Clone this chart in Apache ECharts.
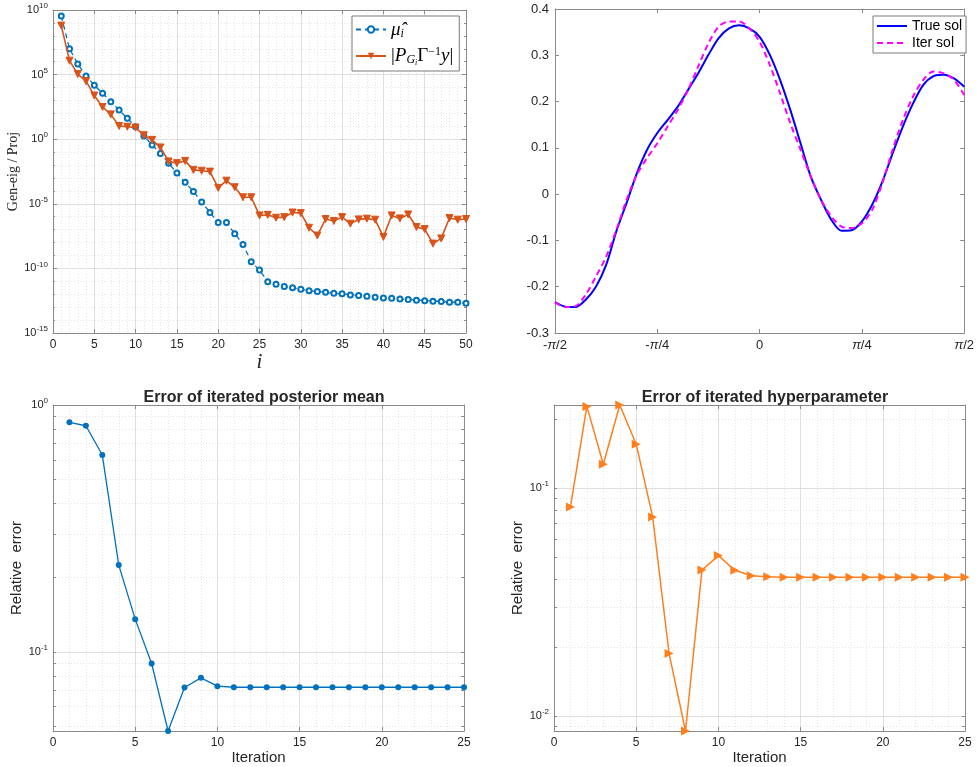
<!DOCTYPE html>
<html><head><meta charset="utf-8">
<script src="https://cdn.jsdelivr.net/npm/echarts@6/dist/echarts.min.js"></script>
<style>html,body{margin:0;padding:0;background:#fff}#c{width:977px;height:767px}</style>
</head><body><div id="c"></div>
<script>
// ================= DATA =================
// Top-left: generalized eigenvalues and projections vs i
const iterTop = [1,2,3,4,5,6,7,8,9,10,11,12,13,14,15,16,17,18,19,20,21,22,23,24,25,
  26,27,28,29,30,31,32,33,34,35,36,37,38,39,40,41,42,43,44,45,46,47,48,49,50];
const muHat = [3.5e9,1.0e7,6.6e5,7.9e4,1.5e4,3.6e3,7.9e2,1.8e2,42,9.3,
  1.8,0.36,0.079,0.014,2.4e-3,4.7e-4,8.9e-5,1.4e-5,2.1e-6,3.5e-7,
  3.5e-7,4.9e-8,7.1e-9,3.2e-10,7.4e-11,9.3e-12,5.9e-12,3.9e-12,3.2e-12,2.4e-12,
  1.9e-12,1.6e-12,1.4e-12,1.2e-12,1.07e-12,8.9e-13,7.9e-13,7.1e-13,5.9e-13,5.2e-13,
  4.9e-13,4.2e-13,3.9e-13,3.5e-13,3.2e-13,2.9e-13,2.75e-13,2.4e-13,2.4e-13,2.0e-13];
const projNorm = [6.2e8,1.2e6,1.1e5,3.1e4,2.4e3,3.1e2,83,10.7,9.3,7.9,
  2.0,0.89,0.23,0.019,0.014,0.021,4.2e-3,3.6e-3,3.1e-3,1.7e-4,
  6.2e-4,1.9e-4,3.2e-5,3.2e-5,1.26e-6,1.4e-6,8.3e-7,9.3e-7,2.1e-6,1.9e-6,
  1.4e-7,3.5e-8,6.6e-7,4.7e-7,9.3e-7,2.9e-7,6.2e-7,7.1e-7,5.9e-7,2.75e-8,
  1.26e-6,7.4e-7,1.5e-6,1.6e-7,1.1e-7,8.3e-9,2.1e-8,7.9e-7,5.9e-7,6.6e-7];
const topLeftYTicksExp = [-15,-10,-5,0,5,10];

// Top-right: solutions; x in units of pi/4
const xQuarterPi = [-2.0,-1.9,-1.8,-1.7,-1.6,-1.5,-1.4,-1.3,-1.2,-1.1,-1.0,-0.9,-0.8,-0.7,-0.6,-0.5,-0.4,-0.3,-0.2,-0.1,
  0.0,0.1,0.2,0.3,0.4,0.5,0.6,0.7,0.8,0.9,1.0,1.1,1.2,1.3,1.4,1.5,1.6,1.7,1.8,1.9,2.0];
const trueSol = [-0.233,-0.243,-0.244,-0.228,-0.200,-0.153,-0.080,-0.019,0.045,0.096,0.132,0.160,0.189,0.225,0.261,0.301,0.337,0.358,0.365,0.358,
  0.340,0.301,0.247,0.182,0.110,0.038,-0.012,-0.055,-0.079,-0.078,-0.059,-0.023,0.027,0.088,0.146,0.196,0.236,0.255,0.258,0.250,0.232];
const iterSol = [-0.234,-0.244,-0.242,-0.217,-0.178,-0.135,-0.077,-0.012,0.042,0.078,0.110,0.146,0.182,0.225,0.276,0.326,0.362,0.373,0.373,0.358,
  0.329,0.279,0.218,0.153,0.096,0.038,-0.012,-0.048,-0.070,-0.073,-0.063,-0.034,0.024,0.096,0.160,0.211,0.247,0.265,0.261,0.247,0.214];
const xPiTickLabels = ['-π/2','-π/4','0','π/4','π/2'];

// Bottom: relative errors vs iteration
const iterBottom = [1,2,3,4,5,6,7,8,9,10,11,12,13,14,15,16,17,18,19,20,21,22,23,24,25];
const errMean = [0.851,0.824,0.627,0.2246,0.1357,0.0897,0.0478,0.0717,0.0785,0.0726,
  0.0719,0.0719,0.0719,0.0719,0.0719,0.0719,0.0719,0.0719,0.0719,0.0719,0.0719,0.0719,0.0719,0.0719,0.0719];
const errHyper = [0.0828,0.2287,0.1275,0.232,0.1561,0.0748,0.0188,0.00859,0.0437,0.0506,
  0.0436,0.0413,0.0409,0.0407,0.0407,0.0407,0.0407,0.0407,0.0407,0.0407,0.0407,0.0407,0.0407,0.0407,0.0407];
const errMeanRange = [0.0478, 1];
const errHyperRange = [0.00859, 0.232];
const meanMajorTicks = [0.1, 1];
const meanMinorTicks = [0.05,0.06,0.07,0.08,0.09,0.2,0.3,0.4,0.5,0.6,0.7,0.8,0.9];
const hyperMajorTicks = [0.01, 0.1];
const hyperMinorTicks = [0.009,0.02,0.03,0.04,0.05,0.06,0.07,0.08,0.09,0.2];

// ================= STYLE =================
const FONT = 'Liberation Sans, Arial, Helvetica, sans-serif';
const SERIF = 'Liberation Serif, Times New Roman, serif';
const AX = '#8a8a8a', TXT = '#262626', GMAJ = '#dfdfdf', GMIN = '#e4e4e4';
const BLUE = '#0072BD', ORANGE = '#D95319', ORANGE2 = '#FF7F1E';
const L10 = Math.log10;
const pow10Rich = {
  b: {fontSize: 11, color: TXT, fontFamily: FONT},
  s: {fontSize: 8, color: TXT, fontFamily: FONT, padding: [0, 0, 8, 0]}
};
const pow10Fmt = v => '{b|10}{s|' + Math.round(v) + '}';

function baseAxis(extra) {
  return Object.assign({
    type: 'value',
    axisLine: {show: true, onZero: false, lineStyle: {color: AX, width: 1}},
    axisTick: {show: true, inside: true, length: 4, lineStyle: {color: AX}},
    axisLabel: {show: true, color: TXT, fontSize: 12, fontFamily: FONT, margin: 6},
    splitLine: {show: false},
    silent: true
  }, extra);
}
function mirror(ax, pos) {
  const m = JSON.parse(JSON.stringify(ax));
  m.position = pos;
  m.axisLabel = {show: false};
  m.splitLine = {show: false};
  m.minorSplitLine = {show: false};
  m.name = '';
  if (ax.axisTick && ax.axisTick.customValues) m.axisTick.customValues = ax.axisTick.customValues;
  return m;
}

const xAxes = [], yAxes = [];
// ---- grid 0 (top-left)
const x0 = baseAxis({gridIndex: 0, min: 0, max: 50, interval: 5, position: 'bottom',
  splitLine: {show: true, lineStyle: {color: GMAJ}},
  minorTick: {show: false, splitNumber: 5},
  minorSplitLine: {show: true, lineStyle: {color: GMIN, type: [1, 2]}},
  name: 'i', nameLocation: 'middle', nameGap: 18,
  nameTextStyle: {fontFamily: SERIF, fontStyle: 'italic', fontSize: 21, color: TXT}});
const y0 = baseAxis({gridIndex: 0, min: -15, max: 10, interval: 5, position: 'left',
  splitLine: {show: true, lineStyle: {color: GMAJ}},
  minorTick: {show: true, splitNumber: 5, length: 2, lineStyle: {color: AX}},
  minorSplitLine: {show: true, lineStyle: {color: GMIN, type: [1, 2]}},
  axisLabel: {color: TXT, fontFamily: FONT, margin: 5, formatter: pow10Fmt, rich: pow10Rich},
  name: 'Gen-eig / Proj', nameLocation: 'middle', nameGap: 32,
  nameTextStyle: {fontFamily: SERIF, fontSize: 14, color: TXT}});
xAxes.push(x0, mirror(x0, 'top'));
yAxes.push(y0, mirror(y0, 'right'));
// ---- grid 1 (top-right)
const x2 = baseAxis({gridIndex: 1, min: -2, max: 2, interval: 1, position: 'bottom',
  axisLabel: {color: TXT, fontSize: 13, fontFamily: FONT, margin: 6,
    formatter: v => xPiTickLabels[Math.round(v) + 2].replace('π', '{p|π}'),
    rich: {p: {fontStyle: 'italic', fontSize: 13, color: TXT, fontFamily: FONT}}}});
const y2 = baseAxis({gridIndex: 1, min: -0.3, max: 0.4, interval: 0.1, position: 'left',
  axisLabel: {color: TXT, fontSize: 13, fontFamily: FONT, margin: 6,
    formatter: v => Math.abs(v) < 1e-9 ? '0' : v.toFixed(1)}});
xAxes.push(x2, mirror(x2, 'top'));
yAxes.push(y2, mirror(y2, 'right'));
// ---- grids 2, 3 (bottom)
function bottomAxes(g, range, majors, minors) {
  const xb = baseAxis({gridIndex: g, min: 0, max: 25, interval: 5, position: 'bottom',
    splitLine: {show: true, lineStyle: {color: GMAJ}},
    minorSplitLine: {show: true, lineStyle: {color: GMIN, type: [1, 2]}},
    minorTick: {show: false, splitNumber: 5},
    name: 'Iteration', nameLocation: 'middle', nameGap: 16,
    nameTextStyle: {fontFamily: FONT, fontSize: 15, color: TXT}});
  const majL = majors.map(L10), minL = minors.map(L10), allL = majL.concat(minL);
  const yMain = baseAxis({gridIndex: g, min: L10(range[0]), max: L10(range[1]), position: 'left',
    axisTick: {show: true, inside: true, length: 3, lineStyle: {color: AX}, customValues: allL},
    axisLabel: {color: TXT, fontFamily: FONT, margin: 5, customValues: majL, formatter: pow10Fmt, rich: pow10Rich},
    splitLine: {show: true, lineStyle: {color: GMIN, type: [1, 2]}},
    name: 'Relative  error', nameLocation: 'middle', nameGap: 28,
    nameTextStyle: {fontFamily: FONT, fontSize: 15, color: TXT}});
  const yMaj = baseAxis({gridIndex: g, min: L10(range[0]), max: L10(range[1]), position: 'left',
    axisLine: {show: false}, axisLabel: {show: false},
    axisTick: {show: false, customValues: majL},
    splitLine: {show: true, lineStyle: {color: GMAJ}}});
  const yR = mirror(yMain, 'right');
  yR.axisTick.customValues = allL;
  xAxes.push(xb, mirror(xb, 'top'));
  yAxes.push(yMain, yMaj, yR);
  return {x: xAxes.length - 2, y: yAxes.length - 3};
}
const b2 = bottomAxes(2, errMeanRange, meanMajorTicks, meanMinorTicks);
const b3 = bottomAxes(3, errHyperRange, hyperMajorTicks, hyperMinorTicks);

const option = {
  animation: false,
  backgroundColor: '#fff',
  textStyle: {fontFamily: FONT},
  title: [
    {text: 'Error of iterated posterior mean', left: 259, top: 385, textAlign: 'center',
      textStyle: {fontSize: 16, fontWeight: 'bold', color: TXT, fontFamily: FONT}},
    {text: 'Error of iterated hyperparameter', left: 760, top: 385, textAlign: 'center',
      textStyle: {fontSize: 16, fontWeight: 'bold', color: TXT, fontFamily: FONT}}
  ],
  grid: [
    {left: 53, top: 10, width: 413, height: 323},
    {left: 555, top: 9, width: 411, height: 324},
    {left: 53, top: 405, width: 411, height: 326},
    {left: 554, top: 405, width: 411, height: 326}
  ],
  xAxis: xAxes,
  yAxis: yAxes,
  legend: [
    {data: ['muhat', 'proj'], left: 352, top: 16, orient: 'vertical', selectedMode: false,
      backgroundColor: '#fff', borderColor: '#7a7a7a', borderWidth: 1, padding: [4, 6, 4, 3],
      itemWidth: 30, itemHeight: 8, itemGap: 6,
      formatter: n => n === 'muhat' ? '{m|μ̂}{sub|i}' : '{n||}{m|P}{sub|G}{ss|i}{n|Γ}{sup|−1}{m|y}{n||}',
      textStyle: {color: '#000', fontFamily: SERIF, fontSize: 18,
        rich: {
          m: {fontFamily: SERIF, fontStyle: 'italic', fontSize: 19, color: '#000'},
          n: {fontFamily: SERIF, fontSize: 19, color: '#000'},
          sub: {fontFamily: SERIF, fontStyle: 'italic', fontSize: 12, color: '#000', padding: [8, 0, 0, 0]},
          ss: {fontFamily: SERIF, fontStyle: 'italic', fontSize: 8, color: '#000', padding: [14, 0, 0, 0]},
          sup: {fontFamily: SERIF, fontSize: 12, color: '#000', padding: [0, 0, 9, 0]}
        }}},
    {data: ['True sol', 'Iter sol'], left: 873, top: 16, orient: 'vertical', selectedMode: false,
      backgroundColor: '#fff', borderColor: '#7a7a7a', borderWidth: 1, padding: [3, 4, 3, 3],
      itemWidth: 30, itemHeight: 10, itemGap: 3,
      itemStyle: {opacity: 0},
      textStyle: {color: '#000', fontFamily: FONT, fontSize: 14}}
  ],
  series: [
    {name: 'muhat', type: 'line', xAxisIndex: 0, yAxisIndex: 0,
      data: iterTop.map((x, i) => [x, L10(muHat[i])]),
      symbol: 'emptyCircle', symbolSize: 5,
      lineStyle: {color: BLUE, width: 1.3, type: [5, 4]},
      itemStyle: {color: BLUE, borderColor: BLUE, borderWidth: 1.2}, z: 3},
    {name: 'proj', type: 'line', xAxisIndex: 0, yAxisIndex: 0,
      data: iterTop.map((x, i) => [x, L10(projNorm[i])]),
      symbol: 'triangle', symbolRotate: 180, symbolSize: 7,
      lineStyle: {color: ORANGE, width: 1.6},
      itemStyle: {color: ORANGE, borderColor: ORANGE}, z: 4},
    {name: 'True sol', type: 'line', xAxisIndex: 2, yAxisIndex: 2, smooth: 0.3,
      data: xQuarterPi.map((x, i) => [x, trueSol[i]]), showSymbol: false, symbol: 'none',
      lineStyle: {color: '#0000FF', width: 2}, itemStyle: {color: '#0000FF'}},
    {name: 'Iter sol', type: 'line', xAxisIndex: 2, yAxisIndex: 2, smooth: 0.3,
      data: xQuarterPi.map((x, i) => [x, iterSol[i]]), showSymbol: false, symbol: 'none',
      lineStyle: {color: '#FF00FF', width: 2, type: [6, 4]}, itemStyle: {color: '#FF00FF'}},
    {name: 'errMean', type: 'line', xAxisIndex: b2.x, yAxisIndex: b2.y,
      data: iterBottom.map((x, i) => [x, L10(errMean[i])]),
      symbol: 'circle', symbolSize: 6, lineStyle: {color: BLUE, width: 1.3},
      itemStyle: {color: BLUE}},
    {name: 'errHyper', type: 'line', xAxisIndex: b3.x, yAxisIndex: b3.y,
      data: iterBottom.map((x, i) => [x, L10(errHyper[i])]),
      symbol: 'triangle', symbolRotate: -90, symbolSize: 9, lineStyle: {color: ORANGE2, width: 1.5},
      itemStyle: {color: ORANGE2}}
  ]
};
const chart = echarts.init(document.getElementById('c'), null, {renderer: 'canvas'});
chart.setOption(option);
</script></body></html>
